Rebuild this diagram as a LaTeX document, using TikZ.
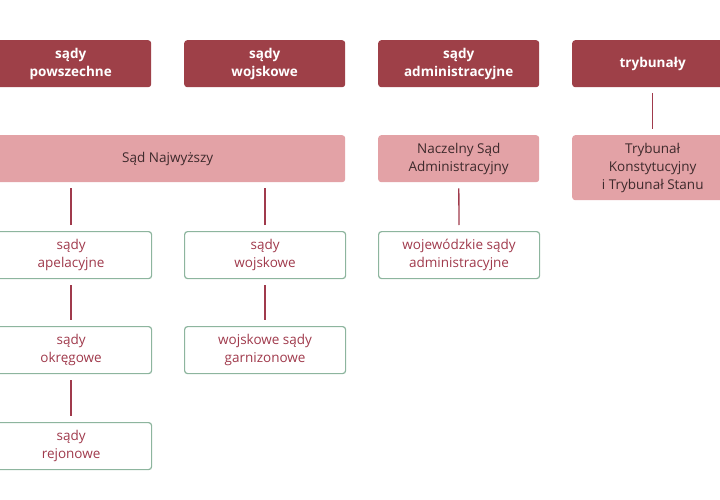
\documentclass[tikz,border=0pt]{standalone}
\usepackage{fontspec}
\setmainfont{Open Sans}
\definecolor{dark}{HTML}{9E4048}
\definecolor{pink}{HTML}{E3A2A6}
\definecolor{txt}{HTML}{3E2A2C}
\definecolor{grn}{HTML}{8DB59E}
\definecolor{red}{HTML}{A03A4C}
\begin{document}
\begin{tikzpicture}[x=1pt,y=-1pt,
  base/.style={rectangle,rounded corners=3pt,align=center,font=\fontsize{13.5}{18}\selectfont,inner sep=0pt,anchor=north west},
  top/.style={base,fill=dark,text=white,font=\fontsize{13.5}{18}\selectfont\bfseries,minimum width=161pt,minimum height=47pt},
  mid/.style={base,fill=pink,text=txt,minimum width=161pt,minimum height=47pt},
  low/.style={base,draw=grn,line width=1.2pt,fill=white,text=red,minimum width=161pt,minimum height=47pt},
  conn/.style={draw=red,line width=1.3pt,shorten <=6pt,shorten >=6pt}]
\useasboundingbox (0,0) rectangle (720,500);
\node[top] (t1) at (-10,40) {sądy\\powszechne};
\node[top] (t2) at (184,40) {sądy\\wojskowe};
\node[top] (t3) at (378,40) {sądy\\administracyjne};
\node[top] (t4) at (572,40) {trybunały};
\node[mid,minimum width=355pt] (sn) at (-10,135) {Sąd Najwyższy};
\node[mid] (nsa) at (378,135) {Naczelny Sąd\\Administracyjny};
\node[mid,minimum height=65pt] (tk) at (572,135) {Trybunał\\Konstytucyjny\\i Trybunał Stanu};
\node[low] (apel) at (-10,231) {sądy\\apelacyjne};
\node[low] (okr) at (-10,326) {sądy\\okręgowe};
\node[low] (rej) at (-10,422) {sądy\\rejonowe};
\node[low] (woj) at (184,231) {sądy\\wojskowe};
\node[low] (garn) at (184,326) {wojskowe sądy\\garnizonowe};
\node[low] (wsa) at (378,231) {wojewódzkie sądy\\administracyjne};
\draw[conn] (apel.north) -- (apel.north |- sn.south);
\draw[conn] (apel) -- (okr);
\draw[conn] (okr) -- (rej);
\draw[conn] (woj.north) -- (woj.north |- sn.south);
\draw[conn] (woj) -- (garn);
\draw[conn] (nsa) -- (wsa);
\draw[conn] (t4) -- (tk);
\end{tikzpicture}
\end{document}
